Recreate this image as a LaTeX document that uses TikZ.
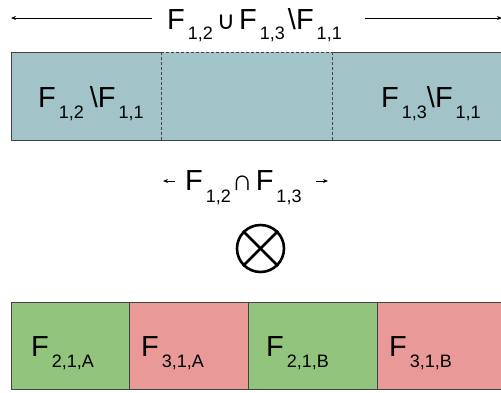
\documentclass[tikz,border=0pt]{standalone}
\usepackage{fontspec}
\setmainfont{Liberation Sans}
\newfontfamily\symfont{DejaVu Sans}
\usetikzlibrary{arrows.meta}
\definecolor{blueF}{HTML}{A2C4C9}
\definecolor{greenF}{HTML}{93C47D}
\definecolor{redF}{HTML}{EA9999}
\definecolor{edgeC}{HTML}{434343}
\newcommand{\Fsub}[3]{F\kern3pt\raisebox{-#2pt}{\fontsize{#3pt}{#3pt}\selectfont #1}}
\newcommand{\symb}[2]{{\symfont\fontsize{#2pt}{#2pt}\selectfont #1}}
\begin{document}
\begin{tikzpicture}[x=1pt,y=-1pt,
  cell/.style={anchor=north west, inner sep=0pt, outer sep=0pt, draw=edgeC, line width=1pt},
  part/.style={anchor=north west, inner sep=0pt, outer sep=0pt, fill=blueF},
  lbl/.style={anchor=base west, inner sep=0pt, font=\fontsize{29pt}{29pt}\selectfont},
  thinarrow/.style={line width=0.8pt, -{Stealth[length=5pt,width=4pt]}},
  edgeline/.style={draw=edgeC, line width=1pt}]
\useasboundingbox (0,0) rectangle (501,392);
% top label and arrows
\node[lbl] (top) at (167,29) {\Fsub{1,2}{10}{18}\kern4pt\symb{∪}{25}\kern4pt\Fsub{1,3}{10}{18}\kern3pt\textbackslash\Fsub{1,1}{10}{18}};
\coordinate (tlA) at (152,18);
\coordinate (tlB) at (11,18);
\coordinate (trA) at (365,18);
\coordinate (trB) at (502,18);
\draw[thinarrow] (tlA) -- (tlB);
\draw[thinarrow] (trA) -- (trB);
% blue band
\node[part, minimum width=150pt, minimum height=88pt] (bl) at (11,52) {};
\node[part, minimum width=171pt, minimum height=88pt] (bm) at (161,52) {};
\node[part, minimum width=173pt, minimum height=88pt] (br) at (332,52) {};
\draw[edgeline] (bl.north east) -- (bl.north west) -- (bl.south west) -- (br.south east);
\draw[edgeline] (br.north west) -- (br.north east);
\draw[edgeline, dash pattern=on 3pt off 2pt] (bm.north west) -- (bm.north east);
\draw[edgeline, dash pattern=on 3pt off 2pt] (bm.north west) -- (bm.south west);
\draw[edgeline, dash pattern=on 3pt off 2pt] (bm.north east) -- (bm.south east);
\node[lbl] (lblL) at (38,107) {\Fsub{1,2}{11}{18}\kern6pt\textbackslash\Fsub{1,1}{11}{18}};
\node[lbl] (lblR) at (381,107) {\Fsub{1,3}{11}{18}\textbackslash\Fsub{1,1}{11}{18}};
% middle label
\node[lbl] (mid) at (185,190) {\Fsub{1,2}{12}{18}\kern1pt∩\kern3pt\Fsub{1,3}{12}{18}};
\coordinate (mlA) at (175,181);
\coordinate (mlB) at (163,181);
\coordinate (mrA) at (316,181);
\coordinate (mrB) at (328,181);
\draw[thinarrow] (mlA) -- (mlB);
\draw[thinarrow] (mrA) -- (mrB);
% otimes
\node[circle, draw=black, line width=2.6pt, minimum size=47pt, inner sep=0pt] (ot) at (260.5,248.5) {};
\draw[line width=2.6pt] (ot.north west) -- (ot.south east);
\draw[line width=2.6pt] (ot.north east) -- (ot.south west);
% bottom cells
\node[cell, fill=greenF, minimum width=118pt, minimum height=87pt] (c1) at (11,302) {};
\node[cell, fill=redF, minimum width=119pt, minimum height=87pt] (c2) at (129,302) {};
\node[cell, fill=greenF, minimum width=129pt, minimum height=87pt] (c3) at (248,302) {};
\node[cell, fill=redF, minimum width=130pt, minimum height=87pt] (c4) at (377,302) {};
\node[lbl] (t1) at (31,356) {\Fsub{2,1,A}{11}{18}};
\node[lbl] (t2) at (141,356) {\Fsub{3,1,A}{11}{18}};
\node[lbl] (t3) at (266,356) {\Fsub{2,1,B}{11}{18}};
\node[lbl] (t4) at (389,356) {\Fsub{3,1,B}{11}{18}};
\end{tikzpicture}
\end{document}
